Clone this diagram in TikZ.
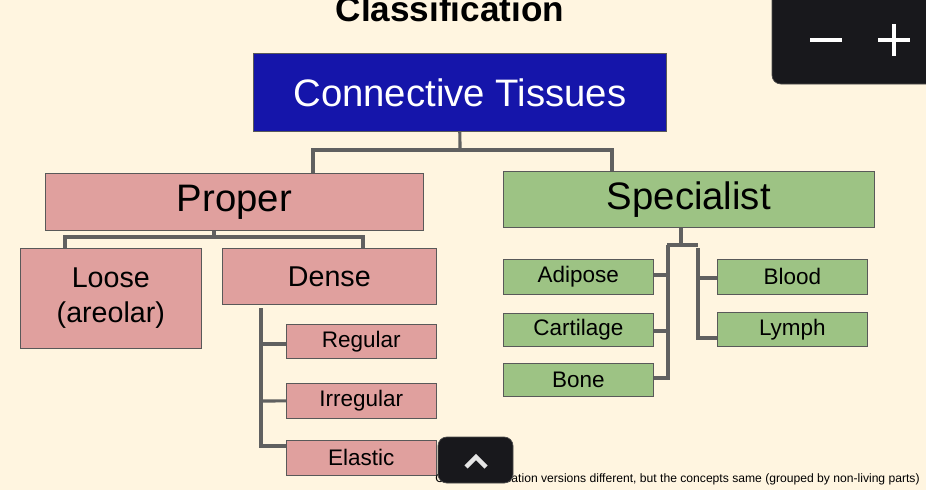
\documentclass[tikz,border=0pt]{standalone}
\usepackage{fontspec}
\setmainfont{Liberation Sans}
\begin{document}
\begin{tikzpicture}[x=0.02cm, y=-0.02cm,
box/.style = {draw = gray!70!black, inner sep = 0pt, anchor = north west},
pink/.style = {box, fill = pinkfill},
green/.style = {box, fill = greenfill},
small/.style = {minimum width = 3cm, minimum height = 0.7cm, font = \fontsize{12.8}{14}\selectfont},
link/.style = {line width = 1.8pt, draw = linkgray},
overlay/.style = {fill = uidark, draw = gray!60!black, rounded corners = 5pt}]
\definecolor{bg}{HTML}{FFF5E0}
\definecolor{pinkfill}{HTML}{E0A09E}
\definecolor{greenfill}{HTML}{9DC384}
\definecolor{bluefill}{HTML}{1515AA}
\definecolor{linkgray}{HTML}{606060}
\definecolor{uidark}{HTML}{18181C}

\fill[bg] (0,0) rectangle (926,490);
\useasboundingbox (0,0) rectangle (926,490);

\node[font = \bfseries\fontsize{20}{22}\selectfont] (title) at (450,9) {Classification};

\node[box, fill = bluefill, text = white, minimum width = 8.26cm, minimum height = 1.56cm,
  font = \fontsize{21.8}{24}\selectfont] (ct) at (253,53) {Connective Tissues};

\node[pink, minimum width = 7.56cm, minimum height = 1.14cm, font = \fontsize{21.8}{24}\selectfont] (proper) at (45,173) {Proper};
\node[green, minimum width = 7.42cm, minimum height = 1.12cm, font = \fontsize{21.8}{24}\selectfont] (spec) at (503,171) {Specialist};

\node[pink, minimum width = 3.62cm, minimum height = 2cm, align = center, font = \fontsize{16.3}{20}\selectfont] (loose) at (20,248) {Loose\\(areolar)};
\node[pink, minimum width = 4.28cm, minimum height = 1.12cm, font = \fontsize{16.3}{20}\selectfont] (dense) at (222,248) {Dense};

\node[pink, small, minimum height = 0.68cm] (regular) at (286,324) {Regular};
\node[pink, small] (irregular) at (286,383) {Irregular};
\node[pink, small] (elastic) at (286,440) {Elastic};

\node[green, small] (adipose) at (503,259) {Adipose};
\node[green, small, minimum height = 0.66cm] (cartilage) at (503,313) {Cartilage};
\node[green, small, minimum height = 0.66cm] (bone) at (503,363) {Bone};
\node[green, small] (blood) at (717,259) {Blood};
\node[green, small, minimum height = 0.68cm] (lymph) at (717,312) {Lymph};

% Brackets
\draw[link] (ct.south) -- (460,150) coordinate (t);
\draw[link] (proper.north -| 313,0) -- (313,150) -- (612,150) -- (spec.north -| 612,0);
\draw[link] (proper.south -| 214,0) -- (214,237);
\draw[link] (loose.north -| 65,0) -- (65,237) -- (363,237) -- (dense.north -| 363,0);
\draw[link] (261,308) -- (261,446) -- (elastic.west |- 0,446);
\draw[link] (261,344) -- (regular.west |- 0,344);
\draw[link] (261,401) -- (irregular.west);
\draw[link] (spec.south -| 681,0) -- (681,245);
\draw[link] (667,245) -- (698,245);
\draw[link] (668,245) -- (668,378) -- (bone.east |- 0,378);
\draw[link] (668,275) -- (adipose.east |- 0,275);
\draw[link] (668,331) -- (cartilage.east |- 0,331);
\draw[link] (698,248) -- (698,338) -- (lymph.west |- 0,338);
\draw[link] (698,278) -- (blood.west |- 0,278);

\node[anchor = south east, inner sep = 0pt, font = \fontsize{6.9}{8}\selectfont] (note) at (920,485)
  {Other classification versions different, but the concepts same (grouped by non-living parts)};

% Viewer overlays
\draw[overlay] (772,-10) rectangle (940,84);
\draw[white, line width = 2.5pt] (810,40) -- (842,40) (878,40) -- (910,40) (894,24) -- (894,56);
\draw[overlay] (438,437) rectangle (513,483);
\draw[white!80!gray, line width = 2.5pt] (466,467) -- (476,457) -- (486,467);
\end{tikzpicture}
\end{document}
